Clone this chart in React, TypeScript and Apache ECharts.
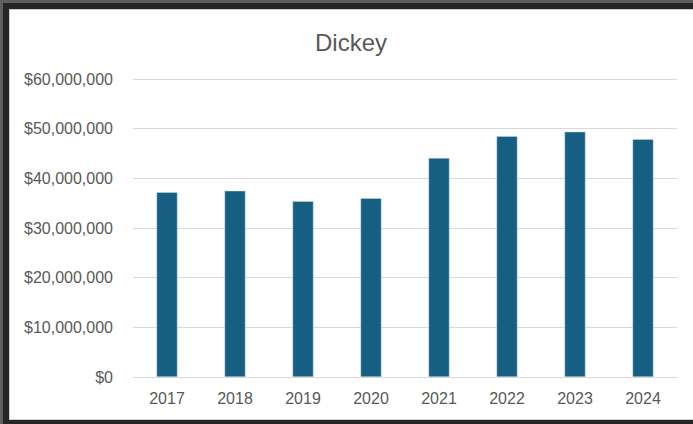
import React, { useEffect, useRef } from "react";
import * as echarts from "echarts";

const titleText = "Dickey";
const categories = ["2017", "2018", "2019", "2020", "2021", "2022", "2023", "2024"];
const values = [37200000, 37500000, 35400000, 36000000, 44100000, 48500000, 49400000, 47900000];
const yMin = 0;
const yMax = 60000000;
const yInterval = 10000000;

const fmt = (v: number) => "$" + v.toLocaleString("en-US");

export default function App() {
  const ref = useRef<HTMLDivElement>(null);
  useEffect(() => {
    if (!ref.current) return;
    const chart = echarts.init(ref.current, undefined, { renderer: "svg" });
    chart.setOption({
      animation: false,
      title: {
        text: titleText,
        left: 315,
        top: 30,
        padding: 0,
        textStyle: {
          fontFamily: "Liberation Sans",
          fontSize: 24,
          fontWeight: "normal",
          color: "#595959",
        },
      },
      grid: { left: 133, right: 16, top: 79, bottom: 47 },
      xAxis: {
        type: "category",
        data: categories,
        axisLine: { lineStyle: { color: "#d9d9d9", width: 1 } },
        axisTick: { show: false },
        axisLabel: {
          margin: 13,
          fontFamily: "Liberation Sans",
          fontSize: 16,
          color: "#595959",
        },
      },
      yAxis: {
        type: "value",
        min: yMin,
        max: yMax,
        interval: yInterval,
        axisLine: { show: false },
        axisTick: { show: false },
        splitLine: { lineStyle: { color: "#d9d9d9", width: 1 } },
        axisLabel: {
          margin: 20,
          fontFamily: "Liberation Sans",
          fontSize: 16,
          color: "#595959",
          formatter: (v: number) => fmt(v),
        },
      },
      series: [
        {
          type: "bar",
          data: values,
          barWidth: 21,
          itemStyle: {
            color: "#165f82",
            borderColor: "rgba(200,220,232,0.8)",
            borderWidth: 0.6,
          },
        },
      ],
    });
    return () => chart.dispose();
  }, []);

  return (
    <div style={{ position: "absolute", left: 0, top: 0, width: 693, height: 424, background: "#5e5e5e", overflow: "hidden" }}>
      <div style={{ position: "absolute", left: 3, top: 3, width: 690, height: 421, background: "#252525" }} />
      <div style={{ position: "absolute", left: 9, top: 9, width: 684, height: 411, background: "#cfcfcf" }} />
      <div style={{ position: "absolute", left: 10, top: 10, width: 683, height: 409, background: "#ffffff" }} />
      <div ref={ref} style={{ position: "absolute", left: 0, top: 0, width: 693, height: 424 }} />
    </div>
  );
}
